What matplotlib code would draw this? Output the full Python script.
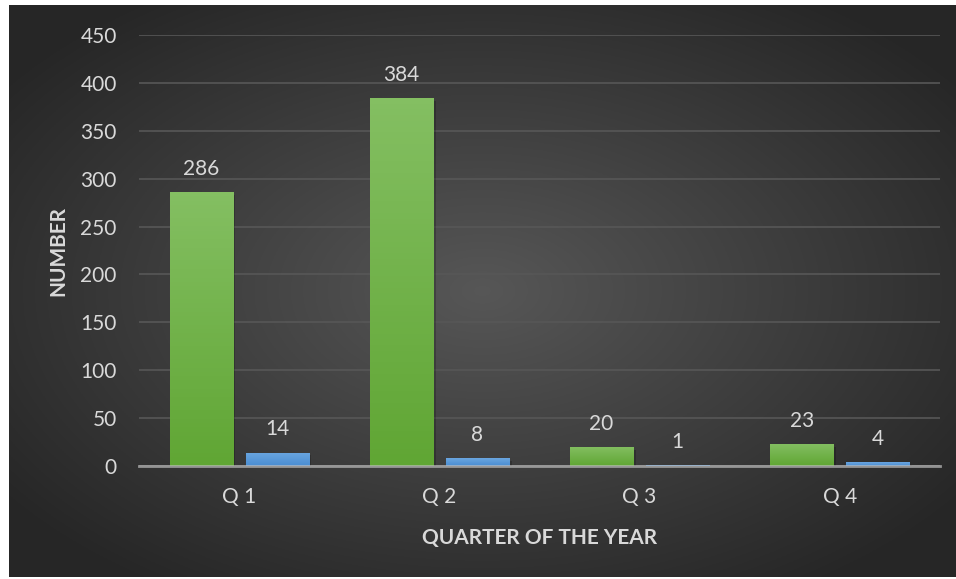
import numpy as np
import matplotlib
matplotlib.use('Agg')
import matplotlib.pyplot as plt
import matplotlib.patheffects as pe

quarters = ['Q 1', 'Q 2', 'Q 3', 'Q 4']
series_a = [286, 384, 20, 23]
series_b = [14, 8, 1, 4]
yticks = [0, 50, 100, 150, 200, 250, 300, 350, 400, 450]

plt.rcParams['font.family'] = ['Lato', 'DejaVu Sans']
txt = '#d9d9d9'

W, H, dpi = 956, 579, 100
fig = plt.figure(figsize=(W / dpi, H / dpi), dpi=dpi, facecolor='white')

# dark radial background of the chart area
bg = fig.add_axes([9 / W, 2 / H, 947 / W, 572 / H], zorder=0)
bg.axis('off')
yy, xx = np.mgrid[-1:1:300j, -1:1:500j]
r = np.sqrt((xx * 1.0) ** 2 + (yy * 1.0) ** 2)
r = np.clip(r / 1.25, 0, 1)
c0, c1 = np.array([0.34, 0.34, 0.34]), np.array([0.15, 0.15, 0.15])
img = c0[None, None, :] * (1 - r[..., None]) + c1[None, None, :] * r[..., None]
bg.imshow(img, aspect='auto', extent=[0, 1, 0, 1])
bg.set_xlim(0, 1)
bg.set_ylim(0, 1)

ax = fig.add_axes([139 / W, (H - 466) / H, 801 / W, 431 / H], zorder=1)
ax.patch.set_alpha(0)
x = np.arange(len(quarters))
w, off = 0.315, 0.19


def grad_bars(xpos, vals, top, bottom):
    bars = ax.bar(xpos, vals, w, color=bottom, zorder=3,
                  path_effects=[pe.SimplePatchShadow(offset=(2, -2), shadow_rgbFace='black', alpha=0.2),
                                pe.Normal()])
    g = np.linspace(0, 1, 64)[:, None]
    ct, cb = np.array(matplotlib.colors.to_rgb(top)), np.array(matplotlib.colors.to_rgb(bottom))
    grad = ct[None, None, :] * (1 - g[..., None]) + cb[None, None, :] * g[..., None]
    for b in bars:
        x0, h = b.get_x(), b.get_height()
        im = ax.imshow(grad, aspect='auto', extent=[x0, x0 + w, 0, h], zorder=4)
        im.set_clip_path(b)
    return bars


grad_bars(x - off, series_a, '#84bf62', '#60a634')
grad_bars(x + off, series_b, '#6aa6e0', '#4a8dd2')

for xi, v in zip(x - off, series_a):
    ax.annotate(str(v), (xi, v), xytext=(0, 9.5), textcoords='offset points',
                ha='center', va='bottom', color=txt, fontsize=15)
for xi, v in zip(x + off, series_b):
    ax.annotate(str(v), (xi, v), xytext=(0, 9.5), textcoords='offset points',
                ha='center', va='bottom', color=txt, fontsize=15)

ax.set_xlim(-0.5, 3.5)
ax.set_ylim(0, 450)
ax.set_yticks(yticks)
ax.set_xticks(x)
ax.set_xticklabels(quarters)
ax.tick_params(length=0, colors=txt, labelsize=15)
ax.tick_params(axis='y', pad=16)
ax.tick_params(axis='x', pad=15)
ax.grid(axis='y', color='#575757', linewidth=1.2, zorder=0)
ax.set_axisbelow(True)
for s in ['top', 'right', 'left']:
    ax.spines[s].set_visible(False)
ax.spines['bottom'].set_color('#bfbfbf')
ax.spines['bottom'].set_alpha(0.7)
ax.spines['bottom'].set_linewidth(2)
ax.spines['bottom'].set_zorder(5)

ax.set_ylabel('NUMBER', color=txt, fontsize=15, fontweight='bold', labelpad=9)
ax.set_xlabel('QUARTER OF THE YEAR', color=txt, fontsize=15, fontweight='bold', labelpad=15)

fig.savefig('out.png', dpi=dpi, facecolor='white')
